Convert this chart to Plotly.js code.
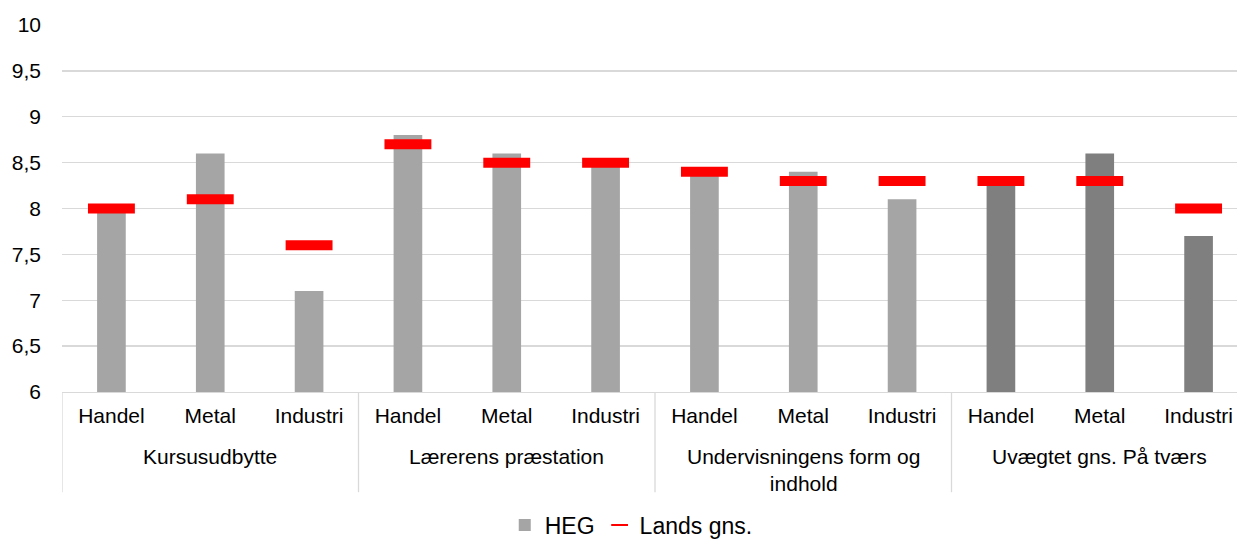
<!DOCTYPE html>
<html>
<head>
<meta charset="utf-8">
<script src="https://cdn.plot.ly/plotly-3.0.1.min.js"></script>
<style>
  html, body { margin: 0; padding: 0; overflow: hidden; background: #fff; }
  #chart { width: 1250px; height: 539px; }
</style>
</head>
<body>
<div id="chart"></div>
<script>
// ---- data ----
const groups = ["Kursusudbytte", "Lærerens præstation", "Undervisningens form og<br>indhold", "Uvægtet gns. På tværs"];
const subCategories = ["Handel", "Metal", "Industri"];
const hegValues = [8.0, 8.6, 7.1, 8.8, 8.6, 8.5, 8.4, 8.4, 8.1, 8.3, 8.6, 7.7];
const landsValues = [8.0, 8.1, 7.6, 8.7, 8.5, 8.5, 8.4, 8.3, 8.3, 8.3, 8.3, 8.0];
const yTicks = [6, 6.5, 7, 7.5, 8, 8.5, 9, 9.5, 10];

// ---- derived ----
const nSub = subCategories.length;
const xIdx = hegValues.map((_, i) => i);
const tickText = xIdx.map(i => subCategories[i % nSub]);
const barColors = xIdx.map(i => Math.floor(i / nSub) === groups.length - 1 ? "#7f7f7f" : "#a5a5a5");

const font = { family: "Liberation Sans, Arial, sans-serif", size: 21, color: "#000" };
const legendFont = { family: "Liberation Sans, Arial, sans-serif", size: 23, color: "#000" };
const gridCol = "#d9d9d9";

const traces = [
  {
    type: "bar", name: "HEG", x: xIdx, y: hegValues, width: 0.29,
    marker: { color: barColors }, hoverinfo: "y"
  },
  {
    type: "scatter", mode: "markers", name: "Lands gns.", x: xIdx, y: landsValues,
    marker: { symbol: "line-ew", size: 33.5, color: "#ff0000", line: { color: "#ff0000", width: 10 } },
    hoverinfo: "y"
  }
];

const shapes = [];
for (let g = 0; g <= groups.length; g++) {
  shapes.push({
    type: "line", xref: "x", yref: "paper",
    x0: g * nSub - 0.5, x1: g * nSub - 0.5, y0: 0, y1: -0.273,
    line: { color: gridCol, width: 1.3 }
  });
}
const annotations = groups.map((g, i) => ({
  xref: "x", yref: "paper", x: i * nSub + (nSub - 1) / 2, y: -0.138,
  xanchor: "center", yanchor: "top", text: g, showarrow: false,
  font: font, align: "center"
}));

const layout = {
  width: 1250, height: 539,
  margin: { l: 62, r: 2, t: 24.5, b: 146.5 },
  paper_bgcolor: "#fff", plot_bgcolor: "#fff",
  separators: ", ",
  font: font,
  showlegend: true,
  legend: {
    orientation: "h", xref: "container", yref: "container",
    x: 0.505, xanchor: "center", y: 0.026, yanchor: "middle",
    font: legendFont, itemsizing: "constant", traceorder: "normal", itemwidth: 30
  },
  xaxis: {
    range: [-0.5, hegValues.length - 0.5],
    tickmode: "array", tickvals: xIdx, ticktext: tickText,
    showgrid: false, zeroline: false, showline: true, linecolor: gridCol, linewidth: 1.3,
    ticks: "", ticklabelstandoff: 4, tickfont: font, fixedrange: true
  },
  yaxis: {
    range: [6, 10], tickmode: "array", tickvals: yTicks,
    showgrid: true, gridcolor: gridCol, gridwidth: 1.3, zeroline: false, showline: false,
    ticks: "", ticklabelstandoff: 20, tickfont: font, fixedrange: true
  },
  bargap: 0.7,
  shapes: shapes,
  annotations: annotations
};

Plotly.newPlot("chart", traces, layout, { displayModeBar: false, staticPlot: true });
</script>
</body>
</html>
